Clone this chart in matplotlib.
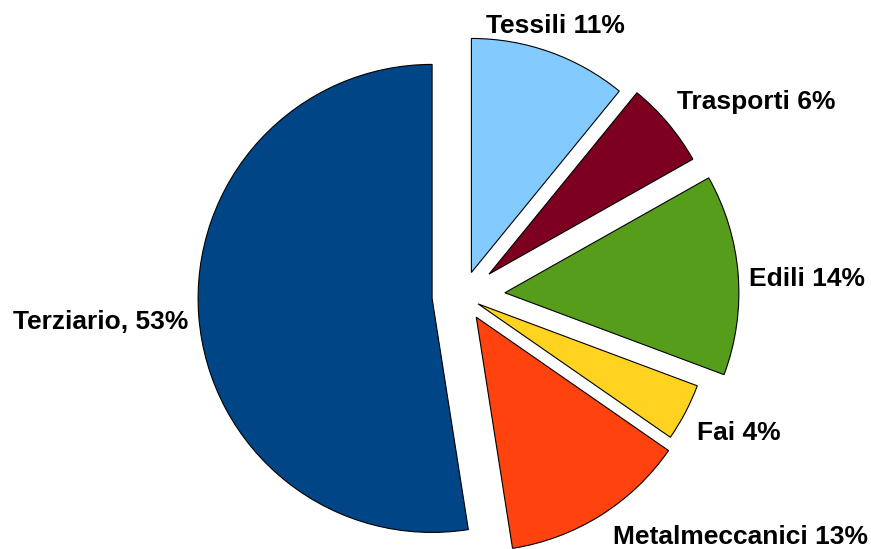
import matplotlib.pyplot as plt

# Data: sectors and shares (percent), clockwise from 12 o'clock
sectors = ['Tessili', 'Trasporti', 'Edili', 'Fai', 'Metalmeccanici', 'Terziario']
shares = [11, 6, 14, 4, 13, 53]
labels = ['Tessili 11%', 'Trasporti 6%', 'Edili 14%', 'Fai 4%',
          'Metalmeccanici 13%', 'Terziario, 53%']
colors = ['#83caff', '#7e0021', '#579d1c', '#ffd320', '#ff420e', '#004586']
# offset of each slice from the centre, in pixels
explode = [25, 34, 42, 17, 25, 31]

W, H = 871, 549
fig = plt.figure(figsize=(W / 100, H / 100), dpi=100)
ax = fig.add_axes([0, 0, 1, 1])

# pie drawn in pixel-like coordinates
cx, cy, r = 463, H - 296, 234
ax.pie(shares, colors=colors, explode=explode, startangle=90,
       counterclock=False, center=(cx, cy), radius=r,
       wedgeprops=dict(edgecolor='black', linewidth=0.8))

# label placement (pixel coords from top-left)
label_pos = [(555, 26), (756, 102), (807, 279), (739, 433), (740, 537), (101, 322)]
for text, (x, y) in zip(labels, label_pos):
    ax.text(x, H - y, text, ha='center', va='center', fontsize=19,
            fontweight='bold', family='Liberation Sans', color='black')

ax.set_xlim(0, W)
ax.set_ylim(0, H)
ax.set_aspect('auto')
ax.axis('off')

fig.savefig('out.png', dpi=100)
